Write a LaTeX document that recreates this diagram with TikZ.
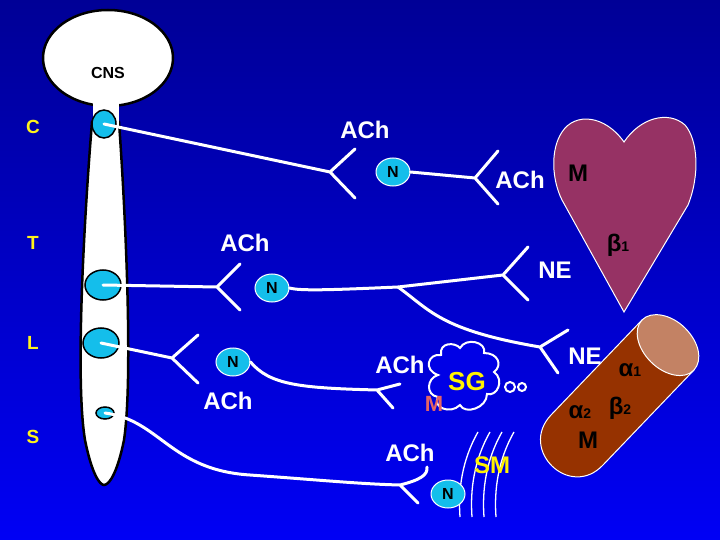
\documentclass[tikz,border=0pt]{standalone}
\usepackage{fontspec}
\setmainfont{Liberation Sans}
\usetikzlibrary{shapes.geometric}
\begin{document}
\begin{tikzpicture}[x=1pt,y=-1pt,
  nerve/.style={white,line width=3pt,line cap=round},
  lbl/.style={text=white,font=\bfseries\fontsize{24}{26}\selectfont},
  seg/.style={text=yellow!90!white,font=\bfseries\fontsize{19}{20}\selectfont},
  gang/.style={ellipse,fill={rgb,255:red,20;green,190;blue,235},draw=white,line width=1pt,minimum width=34pt,minimum height=28pt,inner sep=0pt,font=\bfseries\fontsize{16}{17}\selectfont},
  cell/.style={ellipse,fill={rgb,255:red,20;green,190;blue,235},draw=black,line width=1.5pt,inner sep=0pt},
  rec/.style={text=black,font=\bfseries\fontsize{24}{26}\selectfont}]
\shade[top color={rgb,255:red,0;green,0;blue,150},bottom color={rgb,255:red,0;green,0;blue,245}] (0,0) rectangle (720,540);
\useasboundingbox (0,0) rectangle (720,540);
% CNS and cord
\filldraw[fill=white,draw=black,line width=2.5pt] (108,58) ellipse (65 and 48);
\filldraw[fill=white,draw=black,line width=2.5pt] (92,122) .. controls (84,220) and (75,380) .. (85,440) .. controls (92,475) and (100,485) .. (104,485) .. controls (110,485) and (118,470) .. (124,440) .. controls (133,380) and (126,220) .. (119,122) -- cycle;
\fill[white] (92.5,100) rectangle (118.5,126);
\node[text=black,font=\bfseries\fontsize{16}{17}\selectfont] (cns) at (108,73) {CNS};
\node[cell,minimum width=24pt,minimum height=28pt] (nc) at (104,124) {};
\node[cell,minimum width=36pt,minimum height=30pt] (nt) at (103,285) {};
\node[cell,minimum width=36pt,minimum height=30pt] (nl) at (101,343) {};
\node[cell,minimum width=18pt,minimum height=12pt] (ns) at (105,413) {};
\node[seg] (lc) at (33,127) {C};
\node[seg] (lt) at (33,243) {T};
\node[seg] (ll) at (33,343) {L};
\node[seg] (ls) at (33,437) {S};
% heart
\filldraw[fill={rgb,255:red,150;green,50;blue,100},draw=white,line width=1pt] (624,142) .. controls (605,115) and (575,112) .. (562,132) .. controls (550,150) and (552,180) .. (562,200) -- (624,312) -- (688,205) .. controls (700,175) and (698,140) .. (685,125) .. controls (668,110) and (640,118) .. (624,142) -- cycle;
% muscle
\filldraw[fill={rgb,255:red,150;green,50;blue,0},draw=white,line width=1pt] (642,320) -- (551,415) .. controls (518,450) and (570,500) .. (603,465) -- (694,370) -- cycle;
\filldraw[fill={rgb,255:red,195;green,130;blue,100},draw=white,line width=1pt] (642,320) .. controls (651,310.5) and (671,314) .. (685,328) .. controls (699,342) and (703,360) .. (694,370) .. controls (685,380) and (665,376) .. (651,362) .. controls (637,348) and (633,329.5) .. (642,320) -- cycle;
% ganglia
\node[gang] (g1) at (393,172) {N};
\node[gang] (g2) at (272,288) {N};
\node[gang] (g3) at (233,362) {N};
% SM fibers
\foreach \dx in {0,12,24,36}
  \draw[white,line width=1.3pt] (478+\dx,432) .. controls (462+\dx,460) and (458+\dx,490) .. (460+\dx,517);
\node[gang] (g4) at (448,494) {N};
\node[text=yellow,font=\bfseries\fontsize{24}{26}\selectfont] (sm) at (492,465) {SM};
% forks
\coordinate (f1) at (330,172); \coordinate (f2) at (475,178);
\coordinate (f3) at (217,287); \coordinate (f4) at (503,275);
\coordinate (f5) at (540,347); \coordinate (f6) at (172,358);
\coordinate (f7) at (377,390); \coordinate (f8) at (400,485);
\coordinate (j) at (398,287);
\draw[nerve] (nc.center) -- (f1) (f1) -- (355,149) (f1) -- (355,198);
\draw[nerve] (g1.east) -- (f2) (f2) -- (498,151) (f2) -- (498,204);
\draw[nerve] (nt.center) -- (f3) (f3) -- (240,264) (f3) -- (240,310);
\draw[nerve] (g2.east) .. controls (300,291) and (330,290) .. (j) -- (f4) (f4) -- (528,247) (f4) -- (528,300);
\draw[nerve] (j) .. controls (430,310) and (440,330) .. (f5) (f5) -- (568,330) (f5) -- (558,373);
\draw[nerve] (nl.center) -- (f6) (f6) -- (198,335) (f6) -- (198,383);
\draw[nerve] (g3.east) .. controls (270,385) and (300,388) .. (f7) (f7) -- (400,384) (f7) -- (393,408);
\draw[nerve] (ns.center) .. controls (160,420) and (170,470) .. (250,475) .. controls (320,480) and (360,484) .. (f8) (f8) .. controls (420,480) and (428,475) .. (427,467) (f8) -- (418,503);
% SG cloud
\filldraw[fill={rgb,255:red,0;green,0;blue,230},draw=white,line width=2pt]
 (438,375) .. controls (423,370) and (428,353) .. (441,355) .. controls (439,342) and (455,342) .. (460,348) .. controls (466,337) and (487,342) .. (484,353) .. controls (498,353) and (503,365) .. (494,372) .. controls (505,380) and (497,397) .. (487,394) .. controls (487,408) and (465,415) .. (460,405) .. controls (450,415) and (432,407) .. (438,397) .. controls (425,395) and (427,378) .. (438,375) -- cycle;
\draw[white,line width=2pt] (510,387) circle (5) (522,387) circle (4);
\node[text=yellow,font=\bfseries\fontsize{26}{28}\selectfont] (sg) at (467,382) {SG};
\node[text={rgb,255:red,230;green,100;blue,100},font=\bfseries\fontsize{22}{24}\selectfont] (msg) at (434,404) {M};
% labels
\node[lbl] (a1) at (365,130) {ACh};
\node[lbl] (a2) at (520,180) {ACh};
\node[lbl] (a3) at (245,243) {ACh};
\node[lbl] (a4) at (228,401) {ACh};
\node[lbl] (a5) at (400,365) {ACh};
\node[lbl] (a6) at (410,453) {ACh};
\node[lbl] (ne1) at (555,270) {NE};
\node[lbl] (ne2) at (585,356) {NE};
\node[rec] (mh) at (578,173) {M};
\node[rec] (b1) at (618,245) {β{\fontsize{14}{15}\selectfont1}};
\node[rec] (al1) at (630,370) {α{\fontsize{14}{15}\selectfont1}};
\node[rec] (al2) at (580,412) {α{\fontsize{14}{15}\selectfont2}};
\node[rec] (b2) at (620,408) {β{\fontsize{14}{15}\selectfont2}};
\node[rec] (mm) at (588,440) {M};
\end{tikzpicture}
\end{document}
